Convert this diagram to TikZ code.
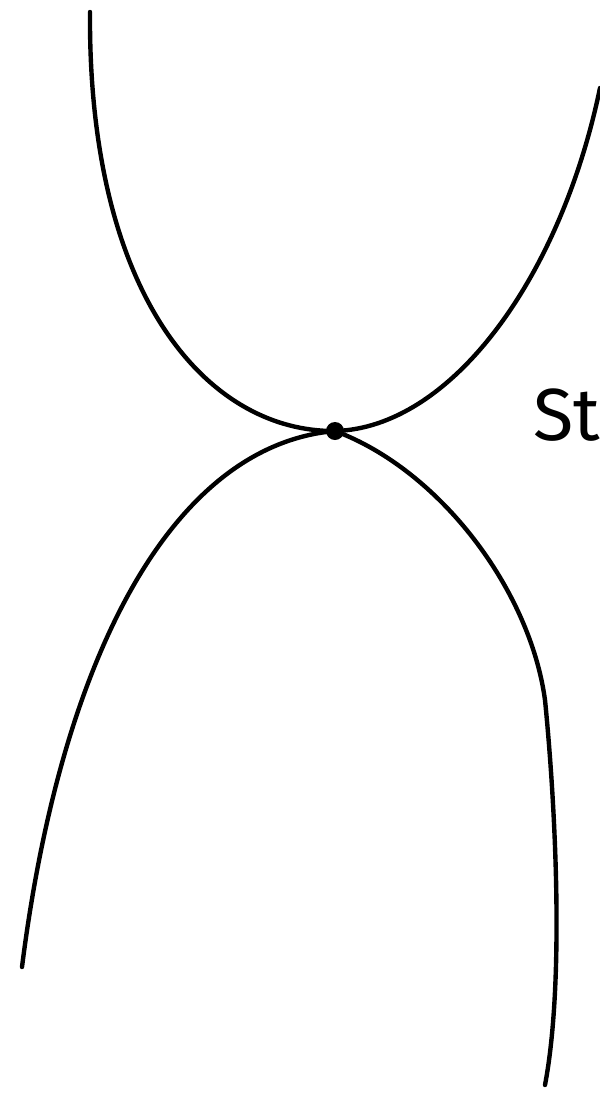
\documentclass[tikz,border=0pt]{standalone}
\usepackage{fontspec}
\setsansfont{Fira Sans}

\begin{document}
\begin{tikzpicture}[x=0.02cm,y=-0.02cm,line width=2.5pt,line cap=round,line join=round]

% ============================================
% Frame
% ============================================
        \useasboundingbox (0,0) rectangle (599,1093);

% ============================================
% Touching point
% ============================================
        \coordinate (T) at (335,431);
        \coordinate (UL) at (90,12);   % upper curve, left end
        \coordinate (UR) at (600,88);  % upper curve, right end
        \coordinate (LL) at (22,967);  % lower curve, left end
        \coordinate (LK) at (545,700); % lower curve, bend
        \coordinate (LR) at (545,1085);% lower curve, right end

% ============================================
% Upper curve
% ============================================
        \draw (UL) .. controls (88,300) and (210,432) .. (T)
                   .. controls (450,428) and (560,280) .. (UR);

% ============================================
% Lower curve
% ============================================
        \draw (LL) .. controls (62,650) and (175,445) .. (T)
                   .. controls (440,470) and (530,590) .. (LK)
                   .. controls (555,800) and (565,980) .. (LR);

        % Dot
        \fill (T) circle (9);

        % Label
        \node[anchor=base west,inner sep=0pt,font=\sffamily\fontsize{42}{42}\selectfont] (lbl) at (531,440) {St};
\end{tikzpicture}
\end{document}
